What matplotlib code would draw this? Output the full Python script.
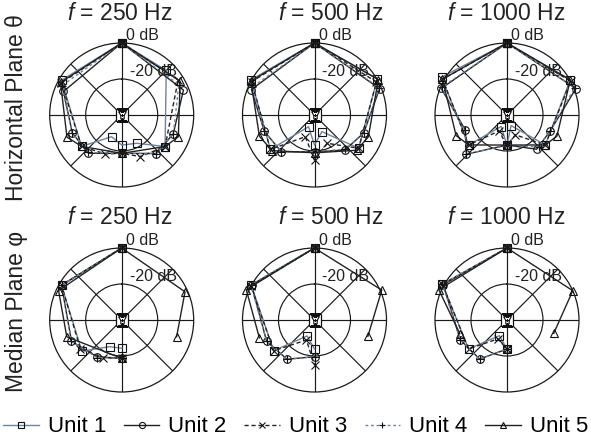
import matplotlib.pyplot as plt
import numpy as np
from matplotlib.path import Path

plt.rcParams['font.family'] = ['Liberation Sans', 'DejaVu Sans']
plt.rcParams['mathtext.fontset'] = 'custom'
plt.rcParams['mathtext.it'] = 'Liberation Sans:italic'
plt.rcParams['mathtext.rm'] = 'Liberation Sans'

# Dados: direcao (graus, horario a partir do topo) e nivel (dB) por unidade
freqs = ['250', '500', '1000']
unidades = ['Unit 1', 'Unit 2', 'Unit 3', 'Unit 4', 'Unit 5']

# Plano horizontal
h250_ang = [[0, 45, 126, 152, 180, -155, -128, -60, 0],
            [0, 68, 110, 138, 180, -139, -110, -68, 0],
            [0, 58, 126, 156, 180, -157, -128, -62, 0],
            [0, 62, 110, 138, 180, -138, -110, -64, 0],
            [0, 60, 111, 126, 180, -128, -112, -62, 0]]
h250_db = [[0, -5, -10.2, -22.2, -23.3, -26.7, -11.7, -1.4, 0],
           [0, -3, -9.5, -11.2, -18.7, -11.8, -10.8, -5.1, 0],
           [0, -3, -10.2, -14.7, -18.7, -16.5, -11.7, -2, 0],
           [0, -4, -9.5, -11.2, -18.7, -12, -10.8, -3, 0],
           [0, -2.5, -6.3, -10.2, -18.7, -11.7, -7.2, -1.5, 0]]

h500_ang = [[0, 60, 127, 156, 180, -153, -128, -61, 0],
            [0, 68, 110, 139, 180, -138, -108, -68, 0],
            [0, 62, 127, 156, 180, -157, -128, -62, 0],
            [0, 67, 110, 138, 180, -138, -108, -66, 0],
            [0, 61, 112, 130, 180, -130, -111, -62, 0]]
h500_db = [[0, 0.3, -9.3, -29.9, -23.3, -32.7, -8.9, 0.3, 0],
           [0, -1, -10.9, -14.2, -19.6, -12.5, -10.7, -2.2, 0],
           [0, -1, -9.3, -22.8, -15, -26.9, -8.9, -0.5, 0],
           [0, -1, -10.9, -14.5, -19.6, -12.5, -10.7, -2, 0],
           [0, 0.5, -7.7, -9.5, -19, -9.2, -7.2, 0, 0]]

h1000_ang = [[0, 61, 128, 159, 180, -153, -128, -60, 0],
             [0, 69, 110, 139, 180, -134, -110, -68, 0],
             [0, 62, 128, 157, 180, -153, -128, -61, 0],
             [0, 68, 110, 135, 180, -134, -110, -67, 0],
             [0, 61, 113, 128, 180, -128, -112, -61, 0]]
h1000_db = [[0, 0.2, -13, -33.7, -23.3, -32.8, -13, 2, 0],
            [0, 1, -14.4, -14.8, -23.3, -8.7, -15.4, -0.6, 0],
            [0, 0, -13, -28, -23.3, -30, -13, 1, 0],
            [0, 0.5, -14.4, -15, -23.3, -8.7, -15, -0.5, 0],
            [0, 0.2, -9.9, -13, -23.3, -13, -9.5, 1, 0]]

# Plano mediano
m250_ang = [[0, -60, -128, -156, 180],
            [0, -60, -113, -146, 180],
            [0, -60, -125, -154, 180],
            [0, -60, -113, -147, 180],
            [107, 66, 0, -65, -107, 180]]
m250_db = [[0, -1.4, -11.9, -23.8, -24.3],
           [0, -1.4, -9.7, -15.4, -18.7],
           [0, -1.4, -12, -16.7, -18.7],
           [0, -1.4, -9.7, -15, -18.7],
           [-8.1, -1.5, 0, -1.3, -8.1, -18.7]]

m500_ang = [[0, -61, -127, -155, 180],
            [0, -61, -114, -145, 180],
            [0, -62, -127, -158, 180],
            [0, -61, -114, -145, 180],
            [107, 66, 0, -66, -108]]
m500_db = [[0, 0.2, -11.6, -30.2, -23.9],
           [0, 0, -10.9, -13.4, -19.6],
           [0, 0, -11.6, -28, -15],
           [0, 0.5, -10.9, -13.4, -19.6],
           [-9, 0.9, 0, 1.5, -7.8]]

m1000_ang = [[0, -61, -127, -154, 180],
             [0, -61, -113, -145, 180],
             [0, -61, -127, -154, 180],
             [0, -61, -113, -145, 180],
             [106, 66, 0, -66, -106]]
m1000_db = [[0, 1, -13.3, -30.3, -23.9],
            [0, 0.5, -11.8, -13.5, -23.9],
            [0, 1, -13.3, -28.3, -23.9],
            [0, 1, -11.8, -13.5, -23.9],
            [-13, 0, 0, 1.5, -12.7]]

paineis = [[(h250_ang, h250_db), (h500_ang, h500_db), (h1000_ang, h1000_db)],
           [(m250_ang, m250_db), (m500_ang, m500_db), (m1000_ang, m1000_db)]]

# estilo das unidades
marcadores = ['s', 'o', 'x', '+', '^']
estilos = ['-', '-', (0, (3, 2)), (0, (2, 2)), '-']
cores = ['#71839a', '#222222', '#222222', '#71839a', '#222222']

# icone do alto-falante no centro
icone = Path([(-0.45, 0.45), (0.45, 0.45), (0.2, 0.0), (-0.2, 0.0), (-0.45, 0.45),
              (-0.2, 0.0), (-0.2, -0.4), (0.2, -0.4), (0.2, 0.0)],
             [1, 2, 2, 2, 2, 1, 2, 2, 2])

W, H = 591, 443
fig = plt.figure(figsize=(W / 100, H / 100), dpi=100)

cx = [121.7, 314.5, 507]
cy = [115, 320]
titulo_x = [120, 331, 506]
raio = 72

for i in range(2):
    for j in range(3):
        ax = fig.add_axes([(cx[j] - raio) / W, (H - cy[i] - raio) / H,
                           2 * raio / W, 2 * raio / H], projection='polar')
        ax.set_theta_zero_location('N')
        ax.set_theta_direction(-1)
        ax.set_rlim(-40, 0)
        ax.set_thetagrids(np.arange(0, 360, 45), labels=[])
        ax.set_rgrids([-20], labels=[])
        ax.grid(True, color='#1a1a1a', lw=0.85)
        ax.spines['polar'].set_color('#1a1a1a')
        ax.spines['polar'].set_linewidth(0.9)

        angs, dbs = paineis[i][j]
        for k in range(5):
            ax.plot(np.radians(angs[k]), dbs[k], ls=estilos[k], color=cores[k],
                    lw=1.0, marker=marcadores[k], ms=5.5, mfc='none',
                    mec='#111111', mew=0.8, clip_on=False, label=unidades[k])

        ax.plot(0, -40, marker='s', ms=8.5, mfc='white', mec='#111111', mew=0.9, zorder=5)
        ax.plot(0, -40, marker=icone, ms=5.5, mfc='none', mec='#111111', mew=0.8, zorder=6)

        ax.text(0.53, 1.055, '0 dB', transform=ax.transAxes, fontsize=11.5,
                ha='left', va='center', color='#222222')
        ax.text(0.555, 0.80, '-20 dB', transform=ax.transAxes, fontsize=11.5,
                ha='left', va='center', color='#222222')

        fig.text(titulo_x[j] / W, 1 - (13 + 205 * i) / H, '$f$ = ' + freqs[j] + ' Hz',
                 fontsize=16.5, ha='center', va='center', color='#222222')

fig.text(17 / W, 1 - 108 / H, 'Horizontal Plane θ', rotation=90, fontsize=16.5,
         ha='center', va='center', color='#222222')
fig.text(17 / W, 1 - 311 / H, 'Median Plane φ', rotation=90, fontsize=16.5,
         ha='center', va='center', color='#222222')

handles, labels = ax.get_legend_handles_labels()
fig.legend(handles, labels, loc='center', bbox_to_anchor=(0.5, 1 - 427 / H), ncol=5,
           frameon=False, fontsize=16, handlelength=1.6, handletextpad=0.4,
           columnspacing=0.8, markerscale=0.8, borderaxespad=0)

fig.savefig('out.png', dpi=100)
